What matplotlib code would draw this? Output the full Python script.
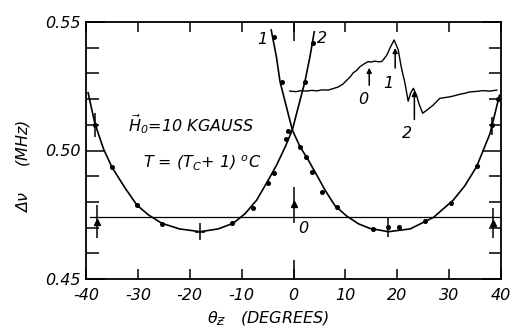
import matplotlib
matplotlib.use("Agg")
import matplotlib.pyplot as plt
from matplotlib.ticker import FixedLocator, MultipleLocator, NullFormatter

# fitted curve 2 (minimum near -18 deg)
curve2_theta = [-39.6, -38.3, -36.6, -35.0, -32.5, -30.2, -28.0, -25.4, -22.0, -18.0,
                -14.5, -11.6, -9.3, -7.1, -4.86, -3.24, -1.58, -0.23, 2.2, 3.2, 4.0]
curve2_v = [0.5225, 0.5106, 0.5005, 0.4935, 0.4855, 0.4788, 0.4750, 0.4717, 0.4695, 0.4684,
            0.4695, 0.4717, 0.4755, 0.4807, 0.4885, 0.4944, 0.5015, 0.5080, 0.5268, 0.5368, 0.5462]

# fitted curve 1 (minimum near +18 deg)
curve1_theta = [-4.3, -3.3, -2.6, -0.23, 1.25, 2.85, 4.47, 6.07, 8.0, 10.25, 12.5, 14.7,
                18.3, 22.5, 27.0, 30.8, 33.0, 35.3, 36.6, 37.9, 39.7]
curve1_v = [0.5469, 0.5365, 0.5268, 0.5080, 0.5015, 0.4963, 0.4905, 0.4846, 0.4785, 0.4745,
            0.4715, 0.4697, 0.4684, 0.4695, 0.4740, 0.4807, 0.4862, 0.4937, 0.5002, 0.5067, 0.5215]

# measured points
dot_theta = [-35.0, -30.2, -25.4, -11.8, -7.9, -4.86, -3.7, -1.5, -1.0, 2.2, 3.8,
             -3.7, -2.3, 1.25, 2.35, 3.62, 5.43, 8.3, 15.4, 20.4, 25.3, 30.3, 35.3, 39.5]
dot_v = [0.4935, 0.4788, 0.4714, 0.4719, 0.4777, 0.4875, 0.4914, 0.5044, 0.5077, 0.5268, 0.5419,
         0.5443, 0.5268, 0.5012, 0.4976, 0.4917, 0.4840, 0.4779, 0.4693, 0.4704, 0.4726, 0.4795,
         0.4940, 0.5200]

# points with vertical error bars
bar_theta = [-38.2, 18.3, 38.2]
bar_v = [0.5100, 0.4701, 0.5100]
bar_lo = [0.5053, 0.4662, 0.5062]
bar_hi = [0.5145, 0.4736, 0.5132]

# minimum of curve 2 marked with a cross
cross_theta = [-18.0]
cross_v = [0.4684]
cross_dx = [1.0]
cross_dv = [0.0034]

# triangles (angle 0 reference)
tri_theta = [-37.9, 0.1, 38.4]
tri_v = [0.4723, 0.4792, 0.4719]
tri_lo = [0.4658, 0.4717, 0.4658]
tri_hi = [0.4788, 0.4859, 0.4775]

ref_level = 0.4742

# recorder trace in upper right
trace_theta = [-0.7, 0.5, 1.5, 2.5, 3.5, 4.5, 5.5, 6.7, 7.5, 8.6, 9.5, 10.3, 11.0, 11.5,
               12.2, 12.8, 13.6, 14.4, 15.0, 15.7, 16.4, 17.0, 17.5, 18.0, 18.7, 19.4,
               20.2, 20.7, 21.1, 21.5, 22.1, 22.6, 23.1, 23.7, 24.2, 24.9, 25.7, 26.9,
               28.2, 29.2, 30.2, 31.2, 32.1, 33.1, 34.0, 35.3, 36.5, 37.8, 39.2]
trace_v = [0.5231, 0.5229, 0.5233, 0.5231, 0.5234, 0.5232, 0.5236, 0.5235, 0.5240, 0.5247,
           0.5258, 0.5274, 0.5288, 0.5302, 0.5312, 0.5326, 0.5337, 0.5346, 0.5344, 0.5348,
           0.5345, 0.5346, 0.5358, 0.5372, 0.5403, 0.5430, 0.5391, 0.5332, 0.5295, 0.5261,
           0.5192, 0.5224, 0.5242, 0.5216, 0.5181, 0.5145, 0.5157, 0.5176, 0.5203, 0.5206,
           0.5209, 0.5214, 0.5219, 0.5223, 0.5228, 0.5230, 0.5233, 0.5231, 0.5235]

x_ticks = [-40, -30, -20, -10, 0, 10, 20, 30, 40]
y_ticks = [0.45, 0.50, 0.55]

plt.rcParams['font.family'] = 'DejaVu Sans'
plt.rcParams['font.style'] = 'oblique'
plt.rcParams['mathtext.fontset'] = 'dejavusans'
plt.rcParams['mathtext.default'] = 'it'

fig = plt.figure(figsize=(5.14, 3.31), dpi=100)
ax = fig.add_axes([86 / 514, 52 / 331, 415 / 514, 257 / 331])

ax.plot(curve2_theta, curve2_v, color='black', lw=1.2)
ax.plot(curve1_theta, curve1_v, color='black', lw=1.2)
ax.plot(trace_theta, trace_v, color='black', lw=1.0)
ax.plot([-39.2, 40], [ref_level, ref_level], color='black', lw=0.9)

ax.plot(dot_theta, dot_v, 'o', color='black', ms=2.6)
ax.errorbar(bar_theta, bar_v,
            yerr=[[v - lo for v, lo in zip(bar_v, bar_lo)], [hi - v for v, hi in zip(bar_v, bar_hi)]],
            fmt='o', color='black', ms=2.6, elinewidth=1.1, capsize=0)
ax.errorbar(cross_theta, cross_v, xerr=cross_dx, yerr=cross_dv,
            fmt='none', ecolor='black', elinewidth=1.1, capsize=0)
ax.errorbar(tri_theta, tri_v,
            yerr=[[v - lo for v, lo in zip(tri_v, tri_lo)], [hi - v for v, hi in zip(tri_v, tri_hi)]],
            fmt='^', color='black', ms=5, elinewidth=1.1, capsize=0)

# arrows on the trace
arrow = dict(arrowstyle='-|>', color='black', lw=1.1, mutation_scale=7)
ax.annotate('', xy=(14.6, 0.5333), xytext=(14.6, 0.5243), arrowprops=arrow)
ax.annotate('', xy=(19.6, 0.5410), xytext=(19.6, 0.5310), arrowprops=arrow)
ax.annotate('', xy=(23.3, 0.5243), xytext=(23.3, 0.5110), arrowprops=arrow)

fs = 11.5
ax.text(13.45, 0.5197, '0', fontsize=fs, ha='center', va='center')
ax.text(18.3, 0.5261, '1', fontsize=fs, ha='center', va='center')
ax.text(21.8, 0.5067, '2', fontsize=fs, ha='center', va='center')
ax.text(-6.1, 0.5430, '1', fontsize=fs, ha='center', va='center')
ax.text(5.4, 0.5437, '2', fontsize=fs, ha='center', va='center')
ax.text(1.9, 0.4697, '0', fontsize=fs, ha='center', va='center')

ax.text(-31.9, 0.5103, r'$\vec{H}_0$=10 KGAUSS', fontsize=fs, ha='left', va='center')
ax.text(-29.0, 0.4955, r'$T$ = ($T_C$+ 1) $^o$C', fontsize=fs, ha='left', va='center')

ax.set_xlim(-40, 40)
ax.set_ylim(0.45, 0.55)

ax.xaxis.remove_overlapping_locs = False
ax.xaxis.set_major_locator(FixedLocator(x_ticks))
ax.xaxis.set_minor_locator(FixedLocator([0]))
ax.set_xticklabels([str(t) for t in x_ticks])
ax.yaxis.set_major_locator(FixedLocator(y_ticks))
ax.yaxis.set_minor_locator(MultipleLocator(0.01))
ax.set_yticklabels(['%.2f' % t for t in y_ticks])
ax.yaxis.set_minor_formatter(NullFormatter())

ax.tick_params(axis='both', which='both', direction='in', top=True, right=True,
               width=1.1, labelsize=fs)
ax.tick_params(axis='x', which='major', length=7, pad=6.5)
ax.tick_params(axis='x', which='minor', length=14)
ax.tick_params(axis='y', which='major', length=14, pad=4)
ax.tick_params(axis='y', which='minor', length=9)
for s in ax.spines.values():
    s.set_linewidth(1.3)

ax.set_xlabel(r'$\theta_{Ƶ}$   (DEGREES)', fontsize=fs)
ax.xaxis.set_label_coords(0.44, -0.12)
ax.set_ylabel(r'$\Delta\nu$     (MHz)', fontsize=fs)
ax.yaxis.set_label_coords(-0.13, 0.44)

fig.savefig('out.png', dpi=100)
